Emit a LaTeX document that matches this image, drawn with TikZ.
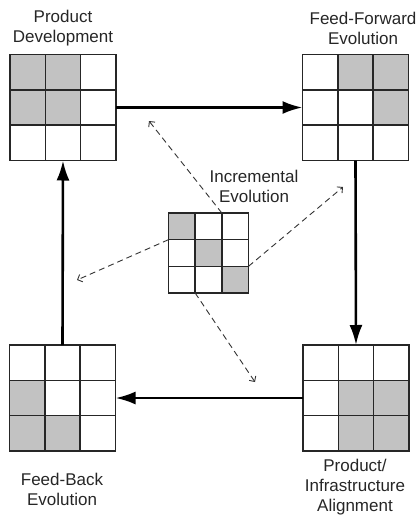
\documentclass[tikz,border=0pt]{standalone}
\usepackage{fontspec}
\setmainfont{Liberation Sans}
\usetikzlibrary{arrows.meta,calc}
\tikzset{
  gridbox/.style={draw=black!85, line width=1.4pt, inner sep=0pt, outer sep=0pt, fill=none},
  gridline/.style={draw=black!85, line width=1.4pt},
  cellgrey/.style={fill=black!24},
  mainarrow/.style={draw=black, line width=2.6pt, -{Latex[length=20pt,width=13pt]}},
  dasharrow/.style={draw=black!80, line width=0.9pt, dash pattern=on 6pt off 4pt, -{Straight Barb[length=4pt,width=8pt]}},
  lbl/.style={align=center, font=\fontsize{17pt}{20pt}\selectfont, text=black!85, inner sep=0pt}
}
\newcommand\mygrid[5]{%
  \pgfmathsetmacro\myhs{#4/2}\pgfmathsetmacro\mycs{#4/3}%
  \foreach \r/\c in {#5}{\fill[cellgrey] ({#2-\myhs+(\c-1)*\mycs},{#3-\myhs+(\r-1)*\mycs}) rectangle ++(\mycs,\mycs);}
  \node[gridbox, minimum size=#4pt] (#1) at (#2,#3) {};
  \draw[gridline] ($(#1.north west)!1/3!(#1.north east)$) -- ($(#1.south west)!1/3!(#1.south east)$);
  \draw[gridline] ($(#1.north west)!2/3!(#1.north east)$) -- ($(#1.south west)!2/3!(#1.south east)$);
  \draw[gridline] ($(#1.north west)!1/3!(#1.south west)$) -- ($(#1.north east)!1/3!(#1.south east)$);
  \draw[gridline] ($(#1.north west)!2/3!(#1.south west)$) -- ($(#1.north east)!2/3!(#1.south east)$);
}
\begin{document}
\begin{tikzpicture}[x=1pt,y=-1pt]
\useasboundingbox (0,0) rectangle (418,520);
% grids
\mygrid{pd}{63}{107.5}{106}{1/1,1/2,2/1,2/2}
\mygrid{ff}{355.5}{107.5}{106}{1/2,1/3,2/3}
\mygrid{fb}{62.5}{398}{106}{2/1,3/1,3/2}
\mygrid{pia}{356}{398}{106}{2/2,2/3,3/2,3/3}
\mygrid{ie}{208.5}{253}{80}{1/1,2/2,3/3}
% labels
\node[lbl] (lpd) at (63,28.5) {Product\\Development};
\node[lbl] (lff) at (363,28.5) {Feed-Forward\\Evolution};
\node[lbl] (lfb) at (62,489) {Feed-Back\\Evolution};
\node[lbl] (lpia) at (355,487) {Product/\\Infrastructure\\Alignment};
\node[lbl] (lie) at (254,186.5) {Incremental\\Evolution};
% main cycle
\draw[mainarrow] (pd.east) -- (ff.west);
\draw[mainarrow] (ff.south) -- (pia.north);
\draw[mainarrow] (pia.west) -- (fb.east);
\draw[mainarrow] (fb.north) -- (pd.south);
% dashed arrows
\coordinate (d1) at (149,121);
\coordinate (d2) at (77,280);
\coordinate (d3) at (343,187);
\coordinate (d4) at (255,382);
\draw[dasharrow] ($(ie.north west)!2/3!(ie.north east)$) -- (d1);
\draw[dasharrow] ($(ie.north west)!1/3!(ie.south west)$) -- (d2);
\draw[dasharrow] ($(ie.north east)!2/3!(ie.south east)$) -- (d3);
\draw[dasharrow] ($(ie.south west)!1/3!(ie.south east)$) -- (d4);
\end{tikzpicture}
\end{document}
